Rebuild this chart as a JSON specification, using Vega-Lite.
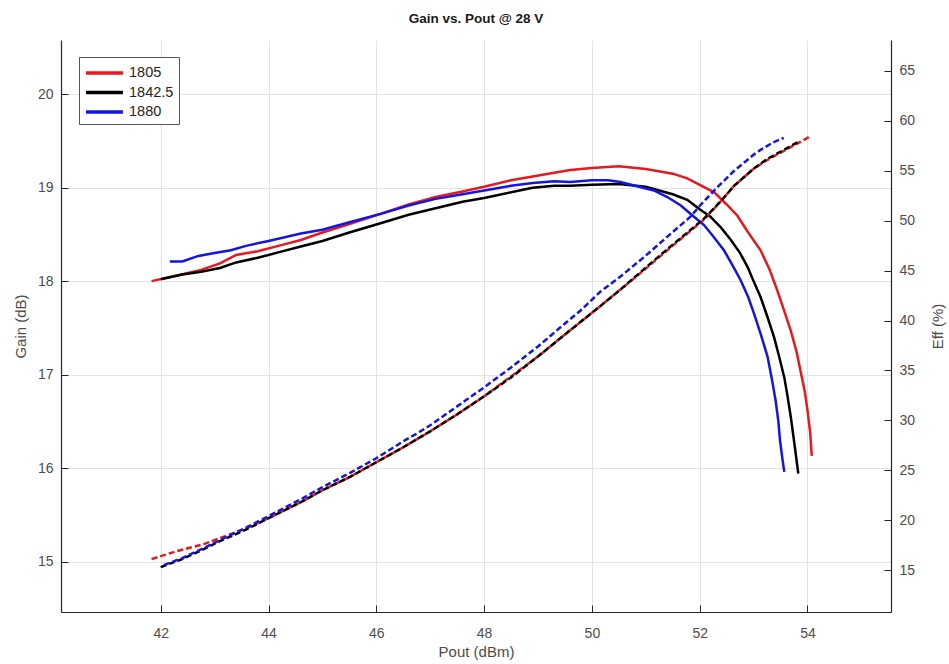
{
  "$schema": "https://vega.github.io/schema/vega-lite/v6.json",
  "width": 830,
  "height": 572,
  "autosize": {"type": "none"},
  "padding": {"left": 61, "top": 40, "right": 58, "bottom": 52},
  "background": "white",
  "title": {"text": "Gain vs. Pout @ 28 V", "fontSize": 13.5, "fontWeight": "bold", "font": "Liberation Sans", "color": "#1a1a1a", "offset": 15, "anchor": "middle"},
  "config": {
    "view": {"stroke": null},
    "axis": {
      "domainColor": "#262626", "domainWidth": 1.2, "tickColor": "#262626", "tickSize": -7, "tickWidth": 1,
      "labelColor": "#4d4d4d", "labelFont": "Liberation Sans", "labelFontSize": 14,
      "titleFont": "Liberation Sans", "titleFontSize": 15, "titleColor": "#4d4d4d", "titleFontWeight": "normal",
      "gridColor": "#e3e3e3", "gridWidth": 1
    },
    "legend": {
      "orient": "none", "legendX": 18, "legendY": 17, "symbolType": "M-2.05,0L2.05,0", "symbolSize": 324, "symbolStrokeWidth": 3.5,
      "symbolOffset": 9.5, "labelOffset": 13.5, "rowPadding": 1.5,
      "labelFontSize": 14.5, "labelFont": "Liberation Sans", "labelColor": "#262626",
      "strokeColor": "#555555", "fillColor": "white", "padding": 5
    }
  },
  "datasets": {
    "gain": [
      {"freq": "1805", "pout": 41.83, "gain": 18.00},
      {"freq": "1805", "pout": 42.3, "gain": 18.06},
      {"freq": "1805", "pout": 42.75, "gain": 18.12},
      {"freq": "1805", "pout": 43.1, "gain": 18.19},
      {"freq": "1805", "pout": 43.4, "gain": 18.28},
      {"freq": "1805", "pout": 43.8, "gain": 18.32},
      {"freq": "1805", "pout": 44.2, "gain": 18.38},
      {"freq": "1805", "pout": 44.6, "gain": 18.44},
      {"freq": "1805", "pout": 45.0, "gain": 18.52},
      {"freq": "1805", "pout": 45.5, "gain": 18.61},
      {"freq": "1805", "pout": 46.08, "gain": 18.72},
      {"freq": "1805", "pout": 46.6, "gain": 18.82},
      {"freq": "1805", "pout": 47.1, "gain": 18.90},
      {"freq": "1805", "pout": 47.6, "gain": 18.96},
      {"freq": "1805", "pout": 48.0, "gain": 19.01},
      {"freq": "1805", "pout": 48.5, "gain": 19.08},
      {"freq": "1805", "pout": 48.9, "gain": 19.12},
      {"freq": "1805", "pout": 49.3, "gain": 19.16},
      {"freq": "1805", "pout": 49.6, "gain": 19.19},
      {"freq": "1805", "pout": 50.0, "gain": 19.21},
      {"freq": "1805", "pout": 50.5, "gain": 19.23},
      {"freq": "1805", "pout": 51.0, "gain": 19.20},
      {"freq": "1805", "pout": 51.5, "gain": 19.15},
      {"freq": "1805", "pout": 51.77, "gain": 19.10},
      {"freq": "1805", "pout": 52.0, "gain": 19.03},
      {"freq": "1805", "pout": 52.27, "gain": 18.95},
      {"freq": "1805", "pout": 52.5, "gain": 18.82},
      {"freq": "1805", "pout": 52.7, "gain": 18.70},
      {"freq": "1805", "pout": 52.9, "gain": 18.52},
      {"freq": "1805", "pout": 53.13, "gain": 18.33},
      {"freq": "1805", "pout": 53.3, "gain": 18.12},
      {"freq": "1805", "pout": 53.44, "gain": 17.90},
      {"freq": "1805", "pout": 53.57, "gain": 17.68},
      {"freq": "1805", "pout": 53.69, "gain": 17.47},
      {"freq": "1805", "pout": 53.8, "gain": 17.24},
      {"freq": "1805", "pout": 53.87, "gain": 17.04},
      {"freq": "1805", "pout": 53.95, "gain": 16.82},
      {"freq": "1805", "pout": 54.0, "gain": 16.62},
      {"freq": "1805", "pout": 54.05, "gain": 16.38},
      {"freq": "1805", "pout": 54.08, "gain": 16.13},
      {"freq": "1842.5", "pout": 42.0, "gain": 18.02},
      {"freq": "1842.5", "pout": 42.4, "gain": 18.07},
      {"freq": "1842.5", "pout": 42.75, "gain": 18.10},
      {"freq": "1842.5", "pout": 43.1, "gain": 18.14},
      {"freq": "1842.5", "pout": 43.4, "gain": 18.20},
      {"freq": "1842.5", "pout": 43.8, "gain": 18.25},
      {"freq": "1842.5", "pout": 44.2, "gain": 18.31},
      {"freq": "1842.5", "pout": 44.6, "gain": 18.37},
      {"freq": "1842.5", "pout": 45.0, "gain": 18.43},
      {"freq": "1842.5", "pout": 45.5, "gain": 18.52},
      {"freq": "1842.5", "pout": 46.08, "gain": 18.62},
      {"freq": "1842.5", "pout": 46.6, "gain": 18.71},
      {"freq": "1842.5", "pout": 47.1, "gain": 18.78},
      {"freq": "1842.5", "pout": 47.6, "gain": 18.85},
      {"freq": "1842.5", "pout": 48.0, "gain": 18.89},
      {"freq": "1842.5", "pout": 48.5, "gain": 18.95},
      {"freq": "1842.5", "pout": 48.9, "gain": 19.00},
      {"freq": "1842.5", "pout": 49.3, "gain": 19.02},
      {"freq": "1842.5", "pout": 49.6, "gain": 19.02},
      {"freq": "1842.5", "pout": 50.0, "gain": 19.03},
      {"freq": "1842.5", "pout": 50.5, "gain": 19.04},
      {"freq": "1842.5", "pout": 51.0, "gain": 19.01},
      {"freq": "1842.5", "pout": 51.5, "gain": 18.93},
      {"freq": "1842.5", "pout": 51.77, "gain": 18.87},
      {"freq": "1842.5", "pout": 52.0, "gain": 18.77},
      {"freq": "1842.5", "pout": 52.2, "gain": 18.69},
      {"freq": "1842.5", "pout": 52.4, "gain": 18.57},
      {"freq": "1842.5", "pout": 52.58, "gain": 18.44},
      {"freq": "1842.5", "pout": 52.75, "gain": 18.30},
      {"freq": "1842.5", "pout": 52.89, "gain": 18.15},
      {"freq": "1842.5", "pout": 53.0, "gain": 18.00},
      {"freq": "1842.5", "pout": 53.13, "gain": 17.83},
      {"freq": "1842.5", "pout": 53.25, "gain": 17.63},
      {"freq": "1842.5", "pout": 53.38, "gain": 17.40},
      {"freq": "1842.5", "pout": 53.48, "gain": 17.18},
      {"freq": "1842.5", "pout": 53.57, "gain": 16.97},
      {"freq": "1842.5", "pout": 53.63, "gain": 16.77},
      {"freq": "1842.5", "pout": 53.69, "gain": 16.55},
      {"freq": "1842.5", "pout": 53.76, "gain": 16.25},
      {"freq": "1842.5", "pout": 53.83, "gain": 15.94},
      {"freq": "1880", "pout": 42.17, "gain": 18.21},
      {"freq": "1880", "pout": 42.4, "gain": 18.21},
      {"freq": "1880", "pout": 42.7, "gain": 18.27},
      {"freq": "1880", "pout": 43.0, "gain": 18.30},
      {"freq": "1880", "pout": 43.3, "gain": 18.33},
      {"freq": "1880", "pout": 43.6, "gain": 18.38},
      {"freq": "1880", "pout": 44.0, "gain": 18.43},
      {"freq": "1880", "pout": 44.6, "gain": 18.51},
      {"freq": "1880", "pout": 45.0, "gain": 18.55},
      {"freq": "1880", "pout": 45.5, "gain": 18.63},
      {"freq": "1880", "pout": 46.08, "gain": 18.72},
      {"freq": "1880", "pout": 46.6, "gain": 18.81},
      {"freq": "1880", "pout": 47.1, "gain": 18.88},
      {"freq": "1880", "pout": 47.6, "gain": 18.93},
      {"freq": "1880", "pout": 48.0, "gain": 18.97},
      {"freq": "1880", "pout": 48.5, "gain": 19.02},
      {"freq": "1880", "pout": 48.9, "gain": 19.05},
      {"freq": "1880", "pout": 49.3, "gain": 19.07},
      {"freq": "1880", "pout": 49.6, "gain": 19.06},
      {"freq": "1880", "pout": 50.0, "gain": 19.08},
      {"freq": "1880", "pout": 50.3, "gain": 19.08},
      {"freq": "1880", "pout": 50.53, "gain": 19.06},
      {"freq": "1880", "pout": 50.8, "gain": 19.02},
      {"freq": "1880", "pout": 51.15, "gain": 18.97},
      {"freq": "1880", "pout": 51.4, "gain": 18.90},
      {"freq": "1880", "pout": 51.65, "gain": 18.81},
      {"freq": "1880", "pout": 51.85, "gain": 18.71},
      {"freq": "1880", "pout": 52.08, "gain": 18.60},
      {"freq": "1880", "pout": 52.25, "gain": 18.48},
      {"freq": "1880", "pout": 52.45, "gain": 18.33},
      {"freq": "1880", "pout": 52.6, "gain": 18.18},
      {"freq": "1880", "pout": 52.76, "gain": 18.01},
      {"freq": "1880", "pout": 52.9, "gain": 17.83},
      {"freq": "1880", "pout": 53.01, "gain": 17.65},
      {"freq": "1880", "pout": 53.14, "gain": 17.42},
      {"freq": "1880", "pout": 53.26, "gain": 17.19},
      {"freq": "1880", "pout": 53.34, "gain": 16.95},
      {"freq": "1880", "pout": 53.41, "gain": 16.72},
      {"freq": "1880", "pout": 53.46, "gain": 16.50},
      {"freq": "1880", "pout": 53.49, "gain": 16.30},
      {"freq": "1880", "pout": 53.53, "gain": 16.12},
      {"freq": "1880", "pout": 53.57, "gain": 15.96}
    ],
    "eff": [
      {"freq": "1805", "pout": 41.83, "eff": 16.1},
      {"freq": "1805", "pout": 42.3, "eff": 16.9},
      {"freq": "1805", "pout": 42.8, "eff": 17.6},
      {"freq": "1805", "pout": 43.1, "eff": 18.2},
      {"freq": "1805", "pout": 43.6, "eff": 19.2},
      {"freq": "1805", "pout": 44.0, "eff": 20.2},
      {"freq": "1805", "pout": 44.6, "eff": 21.8},
      {"freq": "1805", "pout": 45.0, "eff": 23.0},
      {"freq": "1805", "pout": 45.5, "eff": 24.3},
      {"freq": "1805", "pout": 46.0, "eff": 25.8},
      {"freq": "1805", "pout": 46.5, "eff": 27.3},
      {"freq": "1805", "pout": 47.0, "eff": 28.9},
      {"freq": "1805", "pout": 47.5, "eff": 30.6},
      {"freq": "1805", "pout": 48.0, "eff": 32.4},
      {"freq": "1805", "pout": 48.5, "eff": 34.4},
      {"freq": "1805", "pout": 49.0, "eff": 36.4},
      {"freq": "1805", "pout": 49.5, "eff": 38.6},
      {"freq": "1805", "pout": 50.1, "eff": 41.2},
      {"freq": "1805", "pout": 50.53, "eff": 43.1},
      {"freq": "1805", "pout": 51.0, "eff": 45.2},
      {"freq": "1805", "pout": 51.5, "eff": 47.5},
      {"freq": "1805", "pout": 52.08, "eff": 50.1},
      {"freq": "1805", "pout": 52.4, "eff": 52.0},
      {"freq": "1805", "pout": 52.64, "eff": 53.5},
      {"freq": "1805", "pout": 53.0, "eff": 55.2},
      {"freq": "1805", "pout": 53.26, "eff": 56.1},
      {"freq": "1805", "pout": 53.63, "eff": 57.2},
      {"freq": "1805", "pout": 53.87, "eff": 57.9},
      {"freq": "1805", "pout": 54.07, "eff": 58.5},
      {"freq": "1842.5", "pout": 42.0, "eff": 15.3},
      {"freq": "1842.5", "pout": 42.4, "eff": 16.1},
      {"freq": "1842.5", "pout": 42.8, "eff": 17.1},
      {"freq": "1842.5", "pout": 43.1, "eff": 17.9},
      {"freq": "1842.5", "pout": 43.6, "eff": 19.1},
      {"freq": "1842.5", "pout": 44.0, "eff": 20.2},
      {"freq": "1842.5", "pout": 44.6, "eff": 21.8},
      {"freq": "1842.5", "pout": 45.0, "eff": 23.0},
      {"freq": "1842.5", "pout": 45.5, "eff": 24.3},
      {"freq": "1842.5", "pout": 46.0, "eff": 25.8},
      {"freq": "1842.5", "pout": 46.5, "eff": 27.3},
      {"freq": "1842.5", "pout": 47.0, "eff": 28.9},
      {"freq": "1842.5", "pout": 47.5, "eff": 30.6},
      {"freq": "1842.5", "pout": 48.0, "eff": 32.4},
      {"freq": "1842.5", "pout": 48.5, "eff": 34.3},
      {"freq": "1842.5", "pout": 49.0, "eff": 36.4},
      {"freq": "1842.5", "pout": 49.5, "eff": 38.6},
      {"freq": "1842.5", "pout": 50.1, "eff": 41.2},
      {"freq": "1842.5", "pout": 50.53, "eff": 43.1},
      {"freq": "1842.5", "pout": 51.0, "eff": 45.3},
      {"freq": "1842.5", "pout": 51.5, "eff": 47.6},
      {"freq": "1842.5", "pout": 52.08, "eff": 50.2},
      {"freq": "1842.5", "pout": 52.4, "eff": 52.0},
      {"freq": "1842.5", "pout": 52.64, "eff": 53.5},
      {"freq": "1842.5", "pout": 53.0, "eff": 55.2},
      {"freq": "1842.5", "pout": 53.26, "eff": 56.2},
      {"freq": "1842.5", "pout": 53.63, "eff": 57.3},
      {"freq": "1842.5", "pout": 53.83, "eff": 57.9},
      {"freq": "1880", "pout": 42.06, "eff": 15.5},
      {"freq": "1880", "pout": 42.4, "eff": 16.2},
      {"freq": "1880", "pout": 42.8, "eff": 17.2},
      {"freq": "1880", "pout": 43.1, "eff": 18.0},
      {"freq": "1880", "pout": 43.6, "eff": 19.3},
      {"freq": "1880", "pout": 44.0, "eff": 20.4},
      {"freq": "1880", "pout": 44.6, "eff": 22.1},
      {"freq": "1880", "pout": 45.0, "eff": 23.3},
      {"freq": "1880", "pout": 45.5, "eff": 24.7},
      {"freq": "1880", "pout": 46.0, "eff": 26.2},
      {"freq": "1880", "pout": 46.5, "eff": 27.9},
      {"freq": "1880", "pout": 46.76, "eff": 28.7},
      {"freq": "1880", "pout": 47.0, "eff": 29.5},
      {"freq": "1880", "pout": 47.5, "eff": 31.4},
      {"freq": "1880", "pout": 48.0, "eff": 33.3},
      {"freq": "1880", "pout": 48.5, "eff": 35.3},
      {"freq": "1880", "pout": 49.0, "eff": 37.4},
      {"freq": "1880", "pout": 49.5, "eff": 39.7},
      {"freq": "1880", "pout": 49.79, "eff": 41.0},
      {"freq": "1880", "pout": 50.16, "eff": 42.9},
      {"freq": "1880", "pout": 50.53, "eff": 44.4},
      {"freq": "1880", "pout": 51.0, "eff": 46.5},
      {"freq": "1880", "pout": 51.4, "eff": 48.4},
      {"freq": "1880", "pout": 51.83, "eff": 50.4},
      {"freq": "1880", "pout": 52.02, "eff": 51.6},
      {"freq": "1880", "pout": 52.3, "eff": 53.2},
      {"freq": "1880", "pout": 52.64, "eff": 55.0},
      {"freq": "1880", "pout": 53.0, "eff": 56.6},
      {"freq": "1880", "pout": 53.13, "eff": 57.1},
      {"freq": "1880", "pout": 53.35, "eff": 57.8},
      {"freq": "1880", "pout": 53.56, "eff": 58.3}
    ]
  },
  "layer": [
    {
      "data": {"name": "gain"},
      "mark": {"type": "line", "strokeWidth": 2.5},
      "encoding": {
        "x": {"field": "pout", "type": "quantitative",
          "scale": {"domain": [40.15, 55.55], "nice": false, "zero": false},
          "axis": {"title": "Pout (dBm)", "values": [42, 44, 46, 48, 50, 52, 54], "labelPadding": 21, "titleX": 415, "titleY": 39, "titleBaseline": "middle", "grid": true}},
        "y": {"field": "gain", "type": "quantitative",
          "scale": {"domain": [14.46, 20.58], "nice": false, "zero": false},
          "axis": {"title": "Gain (dB)", "values": [15, 16, 17, 18, 19, 20], "labelPadding": 15, "titleX": -41, "titleY": 286, "titleAngle": -90, "titleBaseline": "middle", "titleAlign": "center", "grid": true}},
        "color": {"field": "freq", "type": "nominal",
          "scale": {"domain": ["1805", "1842.5", "1880"], "range": ["#e8191e", "#000000", "#1414e6"]},
          "legend": {"title": null}},
        "order": {"field": "pout", "type": "quantitative"}
      }
    },
    {
      "data": {"name": "eff"},
      "mark": {"type": "line", "strokeWidth": 2.5, "strokeDash": [6, 3]},
      "encoding": {
        "x": {"field": "pout", "type": "quantitative"},
        "y": {"field": "eff", "type": "quantitative",
          "scale": {"domain": [10.8, 68.1], "nice": false, "zero": false},
          "axis": {"title": "Eff (%)", "orient": "right", "values": [15, 20, 25, 30, 35, 40, 45, 50, 55, 60, 65], "labelPadding": 15, "grid": false, "titleX": 46, "titleY": 286, "titleAngle": -90, "titleBaseline": "middle", "titleAlign": "center"}},
        "color": {"field": "freq", "type": "nominal"},
        "order": {"field": "pout", "type": "quantitative"}
      }
    }
  ],
  "resolve": {"scale": {"y": "independent"}}
}
